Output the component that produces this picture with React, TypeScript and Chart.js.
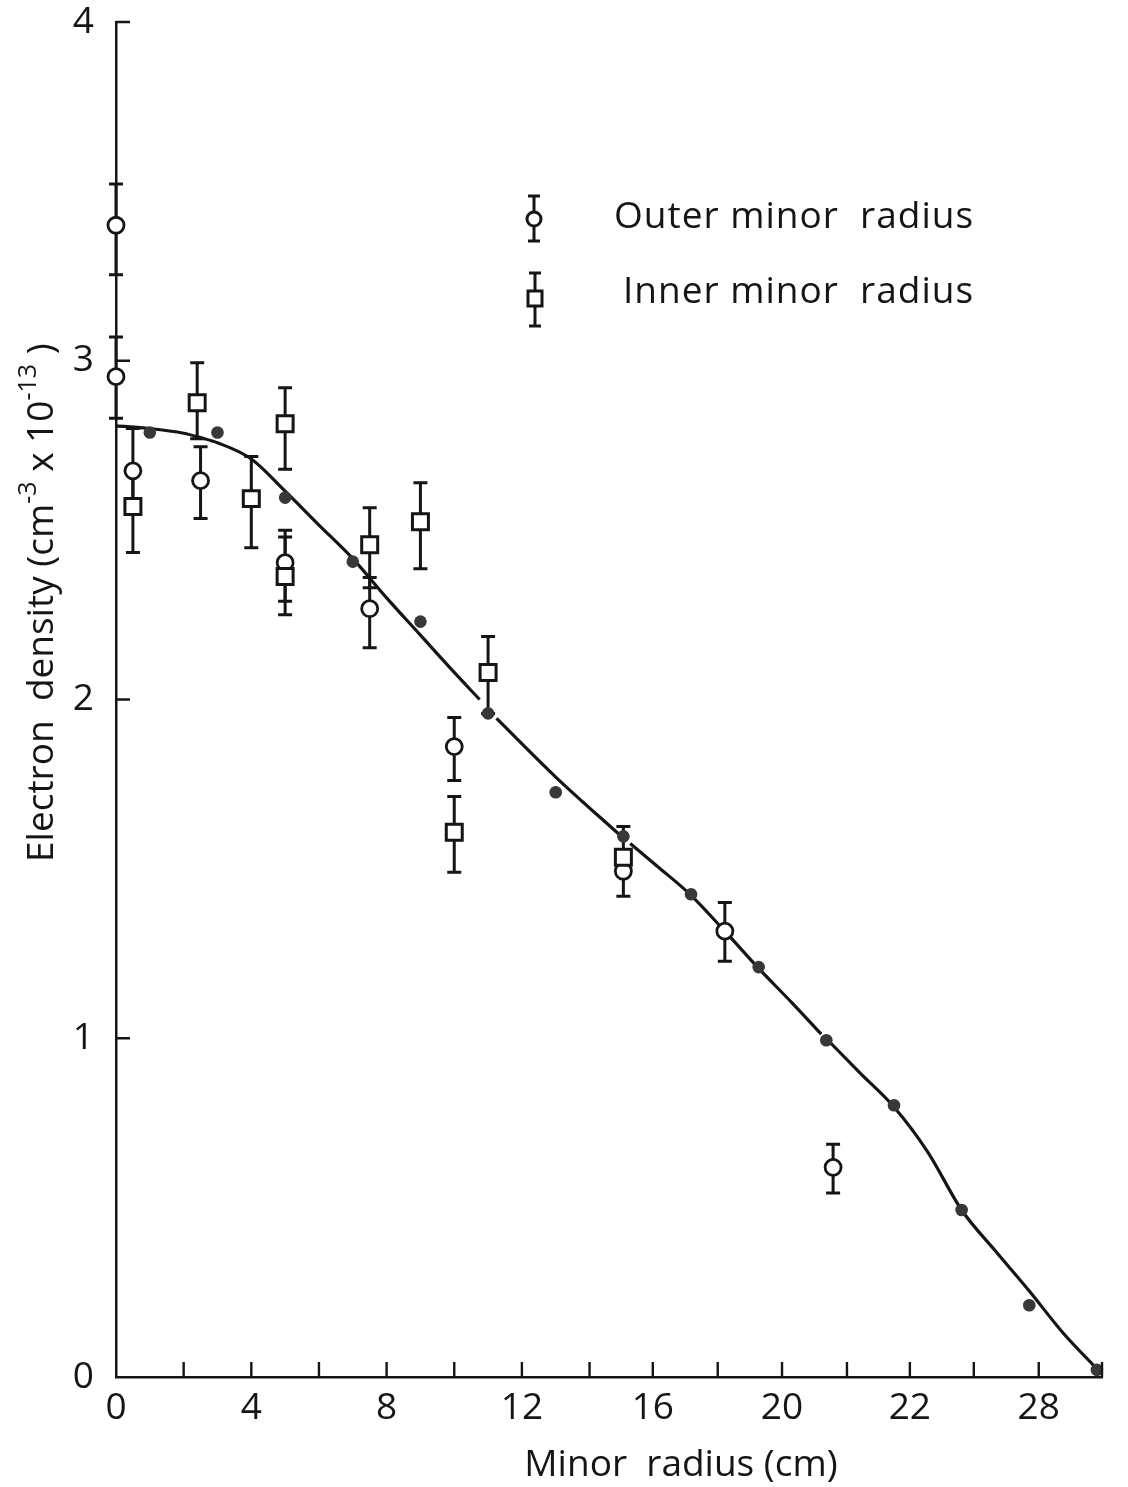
import React, { useEffect, useRef } from 'react';
import { Chart, registerables } from 'chart.js';

Chart.register(...registerables);

// Outer minor radius measurements (open circles) with error limits
const outerX = [0, 0, 0.5, 2.5, 5, 7.5, 10, 15, 18, 21.2];
const outerY = [3.4, 2.953, 2.675, 2.646, 2.404, 2.268, 1.861, 1.493, 1.316, 0.619];
const outerHigh = [3.522, 3.07, 2.8, 2.746, 2.5, 2.36, 1.947, 1.55, 1.401, 0.687];
const outerLow = [3.254, 2.83, 2.57, 2.534, 2.29, 2.153, 1.761, 1.419, 1.227, 0.543];

// Inner minor radius measurements (open squares) with error limits
const innerX = [0.5, 2.4, 4, 5, 5, 7.5, 9, 10, 11, 15];
const innerY = [2.57, 2.876, 2.593, 2.814, 2.363, 2.457, 2.525, 1.608, 2.08, 1.534];
const innerHigh = [2.68, 2.994, 2.717, 2.92, 2.48, 2.566, 2.64, 1.714, 2.186, 1.625];
const innerLow = [2.434, 2.77, 2.448, 2.68, 2.25, 2.33, 2.386, 1.49, 1.959, 1.5];

// Filled points
const dotX = [1, 3, 5, 7, 9, 11, 13, 15, 17, 19, 21, 23, 25, 27, 29];
const dotY = [2.788, 2.788, 2.596, 2.407, 2.23, 1.959, 1.726, 1.596, 1.425, 1.21, 0.994, 0.802, 0.493, 0.212, 0.021];

// Fitted profile (null = pen lifted)
const curveX = [0, 1, 2, 2.5, 3, 4, 5, 6, 7, 8, 9, 10, 10.75, 11, 11.25, 13, 14.95, 15.08, 15.2, 16, 17, 18, 19, 20, 20.85, 20.95, 21.05, 22, 23, 24, 25, 26, 27, 28, 29];
const curveY: (number | null)[] = [2.808, 2.8, 2.786, 2.773, 2.758, 2.71, 2.615, 2.515, 2.416, 2.3, 2.19, 2.08, 2.0, null, 1.944, 1.771, 1.595, null, 1.575, 1.508, 1.422, 1.316, 1.206, 1.103, 1.012, null, 0.994, 0.897, 0.797, 0.664, 0.493, 0.372, 0.254, 0.13, 0.024];

// Axis graduations as drawn on the frame
const xTickValues = [0, 2, 4, 6, 8, 10, 12, 14, 15.87, 17.79, 19.69, 21.61, 23.47, 25.36, 27.28, 29.15];
const xTickLabels = ['0', '', '4', '', '8', '', '12', '', '16', '', '20', '', '22', '', '28', ''];
const yTickValues = [0, 1, 2, 3, 4];
const yTickLabels = ['0', '1', '2', '3', '4'];

const INK = '#151515';
const FONT = "'Open Sans', 'DejaVu Sans', sans-serif";

const zip = (xs: number[], ys: (number | null)[]) => xs.map((x, i) => ({ x, y: ys[i] }));

const errorBarPlugin = {
  id: 'errorBars',
  beforeDatasetsDraw(chart: any) {
    const { ctx, scales } = chart;
    const xs = scales.x;
    const ys = scales.y;
    const draw = (X: number[], lo: number[], hi: number[]) => {
      X.forEach((x, i) => {
        const px = xs.getPixelForValue(x);
        const p1 = ys.getPixelForValue(lo[i]);
        const p2 = ys.getPixelForValue(hi[i]);
        ctx.beginPath();
        ctx.moveTo(px, p1);
        ctx.lineTo(px, p2);
        ctx.moveTo(px - 7, p1);
        ctx.lineTo(px + 7, p1);
        ctx.moveTo(px - 7, p2);
        ctx.lineTo(px + 7, p2);
        ctx.stroke();
      });
    };
    ctx.save();
    ctx.strokeStyle = INK;
    ctx.lineWidth = 3;
    draw(outerX, outerLow, outerHigh);
    draw(innerX, innerLow, innerHigh);
    ctx.restore();
  },
};

const frameTicksPlugin = {
  id: 'frameTicks',
  afterDraw(chart: any) {
    const { ctx, scales, chartArea } = chart;
    ctx.save();
    ctx.strokeStyle = INK;
    ctx.lineWidth = 2.4;
    ctx.beginPath();
    scales.x.ticks.forEach((t: any, i: number) => {
      if (i === 0) return;
      const px = scales.x.getPixelForTick(i);
      ctx.moveTo(px, chartArea.bottom);
      ctx.lineTo(px, chartArea.bottom - 15);
    });
    scales.y.ticks.forEach((t: any, i: number) => {
      if (i === 0) return;
      const py = scales.y.getPixelForTick(i);
      ctx.moveTo(chartArea.left, py);
      ctx.lineTo(chartArea.left + 14, py);
    });
    ctx.stroke();
    ctx.restore();
  },
};

const annotationPlugin = {
  id: 'annotations',
  afterDraw(chart: any) {
    const { ctx } = chart;
    ctx.save();
    ctx.fillStyle = INK;
    ctx.strokeStyle = INK;

    // x-axis title
    ctx.font = `37px ${FONT}`;
    ctx.textAlign = 'center';
    ctx.textBaseline = 'alphabetic';
    ctx.fillText('Minor  radius (cm)', 681, 1476);

    // y-axis title with superscripts, rotated
    ctx.save();
    ctx.translate(53, 862);
    ctx.rotate(-Math.PI / 2);
    ctx.textAlign = 'left';
    const parts: [string, boolean][] = [
      ['Electron  density (cm', false],
      ['-3', true],
      [' x 10', false],
      ['-13', true],
      [' )', false],
    ];
    let cx = 0;
    parts.forEach(([txt, sup]) => {
      ctx.font = sup ? `25px ${FONT}` : `37px ${FONT}`;
      ctx.fillText(txt, cx, sup ? -17 : 0);
      cx += ctx.measureText(txt).width;
    });
    ctx.restore();

    // legend
    ctx.lineWidth = 3;
    const bar = (x: number, y1: number, y2: number) => {
      ctx.beginPath();
      ctx.moveTo(x, y1);
      ctx.lineTo(x, y2);
      ctx.moveTo(x - 6, y1);
      ctx.lineTo(x + 6, y1);
      ctx.moveTo(x - 6, y2);
      ctx.lineTo(x + 6, y2);
      ctx.stroke();
    };
    bar(534, 196, 241);
    ctx.beginPath();
    ctx.arc(534, 219, 7, 0, Math.PI * 2);
    ctx.fillStyle = '#fff';
    ctx.fill();
    ctx.stroke();
    bar(535, 273, 326);
    ctx.fillStyle = '#fff';
    ctx.fillRect(528, 291, 14, 15);
    ctx.strokeRect(528, 291, 14, 15);

    ctx.fillStyle = INK;
    ctx.font = `37px ${FONT}`;
    (ctx as any).letterSpacing = '1px';
    ctx.textAlign = 'left';
    ctx.textBaseline = 'middle';
    ctx.fillText('Outer minor  radius', 614, 217);
    ctx.fillText('Inner minor  radius', 623, 292);
    ctx.restore();
  },
};

export default function App() {
  const ref = useRef<HTMLCanvasElement>(null);

  useEffect(() => {
    const canvas = ref.current;
    if (!canvas) return;
    const chart = new Chart(canvas, {
      type: 'scatter',
      data: {
        datasets: [
          {
            label: 'Inner minor radius',
            data: zip(innerX, innerY),
            pointStyle: 'rect',
            pointRadius: 11.3,
            borderWidth: 3,
            borderColor: INK,
            backgroundColor: '#ffffff',
            clip: false,
          } as any,
          {
            label: 'Outer minor radius',
            data: zip(outerX, outerY),
            pointStyle: 'circle',
            pointRadius: 8,
            borderWidth: 2.8,
            borderColor: INK,
            backgroundColor: '#ffffff',
            clip: false,
          } as any,
          {
            label: 'Profile points',
            data: zip(dotX, dotY),
            pointStyle: 'circle',
            pointRadius: 6.3,
            borderWidth: 0,
            backgroundColor: '#383838',
            clip: false,
          } as any,
          {
            type: 'line',
            label: 'Profile',
            data: zip(curveX, curveY) as any,
            borderColor: INK,
            borderWidth: 3.2,
            pointRadius: 0,
            cubicInterpolationMode: 'monotone',
            spanGaps: false,
            fill: false,
            clip: false,
          } as any,
        ],
      },
      options: {
        responsive: false,
        devicePixelRatio: 1,
        animation: false,
        layout: { padding: { left: 0, right: 26, top: 22, bottom: 0 } },
        plugins: {
          legend: { display: false },
          tooltip: { enabled: false },
        },
        scales: {
          x: {
            type: 'linear',
            min: 0,
            max: 29.15,
            afterBuildTicks: (axis: any) => {
              axis.ticks = xTickValues.map((value) => ({ value }));
            },
            afterFit: (axis: any) => {
              axis.height = 110;
              axis.paddingLeft = 0;
              axis.paddingRight = 0;
            },
            grid: { display: false },
            border: { display: true, color: INK, width: 2.5 },
            ticks: {
              autoSkip: false,
              maxRotation: 0,
              padding: 1,
              color: INK,
              font: { family: FONT, size: 37 },
              callback: (_v: any, i: number) => xTickLabels[i],
            },
          },
          y: {
            type: 'linear',
            min: 0,
            max: 4,
            afterBuildTicks: (axis: any) => {
              axis.ticks = yTickValues.map((value) => ({ value }));
            },
            afterFit: (axis: any) => {
              axis.width = 116;
              axis.paddingTop = 0;
              axis.paddingBottom = 0;
            },
            grid: { display: false },
            border: { display: true, color: INK, width: 2.5 },
            ticks: {
              padding: 14,
              color: INK,
              font: { family: FONT, size: 37 },
              callback: (_v: any, i: number) => yTickLabels[i],
            },
          },
        },
      },
      plugins: [errorBarPlugin, frameTicksPlugin, annotationPlugin],
    });
    return () => chart.destroy();
  }, []);

  return (
    <div style={{ position: 'absolute', left: 0, top: 0, width: 1128, height: 1487, background: '#ffffff' }}>
      <canvas ref={ref} width={1128} height={1487} style={{ display: 'block' }} />
    </div>
  );
}
